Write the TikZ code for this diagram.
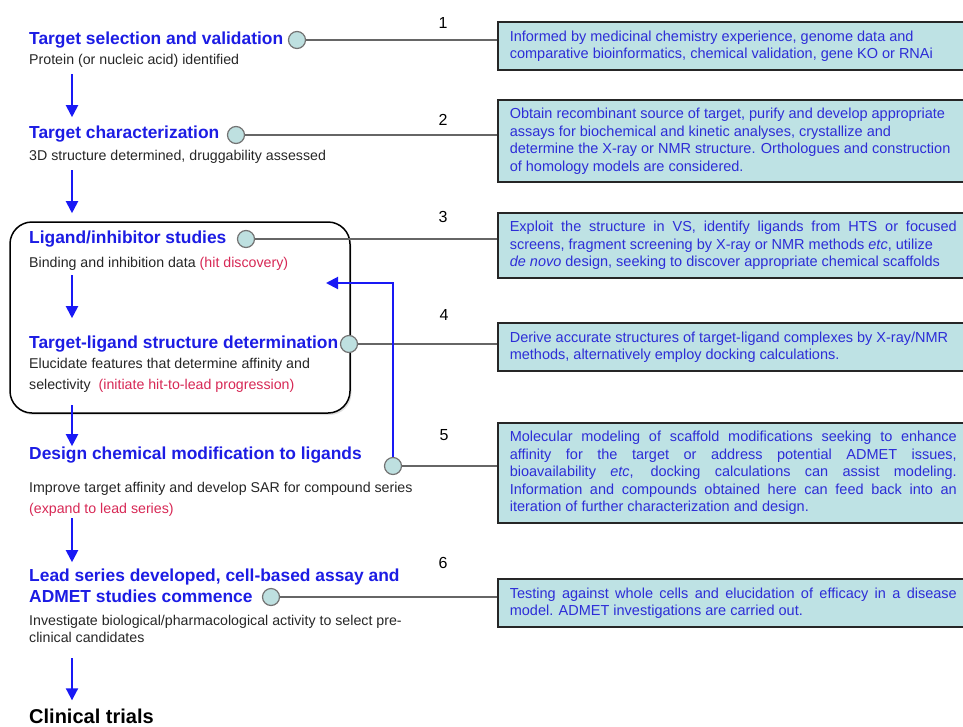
\documentclass[tikz,border=0pt]{standalone}
\usepackage{fontspec}
\setmainfont{Liberation Sans}
\usetikzlibrary{arrows.meta,shadows}
\definecolor{headblue}{RGB}{28,28,228}
\definecolor{arrowblue}{RGB}{25,25,245}
\definecolor{noteblue}{RGB}{45,45,215}
\definecolor{notefill}{RGB}{190,226,228}
\definecolor{dotfill}{RGB}{190,224,224}
\definecolor{hitred}{RGB}{215,40,85}

\begin{document}
\begin{tikzpicture}[x=1pt,y=1pt]
\tikzstyle{every node}+=[inner sep=0pt]
\tikzstyle{head}=[anchor=base west,align=left,text=headblue,font=\fontsize{17.4}{21}\selectfont\bfseries]
\tikzstyle{sub}=[anchor=base west,align=left,text=black!85,font=\fontsize{14.2}{20.5}\selectfont]
\tikzstyle{dot}=[circle,draw=black!55,fill=dotfill,line width=1.2pt,minimum size=17pt]
\tikzstyle{note}=[anchor=west,draw=black!85,line width=1.6pt,fill=notefill,text=noteblue,text width=447pt,align=justify,inner xsep=12pt,font=\fontsize{14.5}{17.5}\selectfont]
\tikzstyle{num}=[font=\fontsize{16}{16}\selectfont]
\tikzstyle{flow}=[draw=arrowblue,line width=2pt,-{Triangle[width=12pt,length=12pt]}]
\tikzstyle{link}=[draw=black!60,line width=1.2pt]
\useasboundingbox (0,0) rectangle (963,-726);
\draw [black,line width=1.5pt,fill=white,rounded corners=22pt,drop shadow={opacity=0.25,shadow xshift=1.5pt,shadow yshift=-2pt}] (10,-222) rectangle (350,-413);
\node [head] (t1) at (29,-44) {Target selection and validation};
\node [sub] (s1) at (29,-64) {Protein (or nucleic acid) identified};
\node [head] (t2) at (29,-138) {Target characterization};
\node [sub] (s2) at (29,-160) {3D structure determined, druggability assessed};
\node [head] (t3) at (29,-243) {Ligand/inhibitor studies};
\node [sub] (s3) at (29,-267) {Binding and inhibition data \textcolor{hitred}{(hit discovery)}};
\node [head] (t4) at (29,-348) {Target-ligand structure determination};
\node [sub] (s4) at (29,-389) {Elucidate features that determine affinity and\\selectivity\ \ \textcolor{hitred}{(initiate hit-to-lead progression)}};
\node [head] (t5) at (29,-459) {Design chemical modification to ligands};
\node [sub] (s5) at (29,-513) {Improve target affinity and develop SAR for compound series\\\textcolor{hitred}{(expand to lead series)}};
\node [head] (t6) at (29,-602) {Lead series developed, cell-based assay and\\ADMET studies commence};
\node [sub,font=\fontsize{14.2}{17}\selectfont] (s6) at (29,-642) {Investigate biological/pharmacological activity to select pre-\\clinical candidates};
\node [head,text=black,font=\fontsize{20}{24}\selectfont\bfseries] (t7) at (29,-723) {Clinical trials};
\node [dot] (c1) at (297,-40) {};
\node [dot] (c2) at (236,-135) {};
\node [dot] (c3) at (246,-239) {};
\node [dot] (c4) at (349,-344) {};
\node [dot] (c5) at (393,-466) {};
\node [dot] (c6) at (271,-597) {};
\node [num] (k1) at (443,-23) {1};
\node [num] (k2) at (443,-120) {2};
\node [num] (k3) at (443,-217) {3};
\node [num] (k4) at (444,-315) {4};
\node [num] (k5) at (444,-435) {5};
\node [num] (k6) at (443,-563) {6};
\node [note,minimum height=48pt] (n1) at (497,-46) {Informed by medicinal chemistry experience, genome data and\newline comparative bioinformatics, chemical validation, gene KO or RNAi};
\node [note,minimum height=82pt] (n2) at (497,-141) {Obtain recombinant source of target, purify and develop appropriate\newline assays for biochemical and kinetic analyses, crystallize and\newline determine the X-ray or NMR structure. Orthologues and construction\newline of homology models are considered.};
\node [note,minimum height=65pt] (n3) at (497,-245.5) {Exploit the structure in VS, identify ligands from HTS or focused\linebreak screens, fragment screening by X-ray or NMR methods \textit{etc}, utilize\newline \textit{de novo} design, seeking to discover appropriate chemical scaffolds};
\node [note,minimum height=48pt] (n4) at (497,-347) {Derive accurate structures of target-ligand complexes by X-ray/NMR\newline methods, alternatively employ docking calculations.};
\node [note,minimum height=100pt] (n5) at (497,-473) {Molecular modeling of scaffold modifications seeking to enhance\linebreak affinity for the target or address potential ADMET issues,\linebreak bioavailability \textit{etc}, docking calculations can assist modeling.\linebreak Information and compounds obtained here can feed back into an\linebreak iteration of further characterization and design.};
\node [note,minimum height=48pt] (n6) at (497,-603) {Testing against whole cells and elucidation of efficacy in a disease\linebreak model. ADMET investigations are carried out.};
\draw [link] (c1) -- (c1 -| n1.west);
\draw [link] (c2) -- (c2 -| n2.west);
\draw [link] (c3) -- (c3 -| n3.west);
\draw [link] (c4) -- (c4 -| n4.west);
\draw [link] (c5) -- (c5 -| n5.west);
\draw [link] (c6) -- (c6 -| n6.west);
\coordinate (col) at (72,0);
\coordinate (back) at (326,-283);
\draw [flow] (c5) |- (back);
\draw [flow,shorten <=7pt,shorten >=8pt] (s1.south -| col) -- (t2.north -| col);
\draw [flow,shorten <=7pt,shorten >=17pt] (s2.south -| col) -- (t3.north -| col);
\draw [flow,shorten <=5pt,shorten >=17pt] (s3.south -| col) -- (t4.north -| col);
\draw [flow,shorten <=13pt,shorten >=0pt] (s4.south -| col) -- (t5.north -| col);
\draw [flow,shorten <=2pt,shorten >=6pt] (s5.south -| col) -- (t6.north -| col);
\draw [flow,shorten <=16pt,shorten >=8pt] (s6.south -| col) -- (t7.north -| col);
\end{tikzpicture}
\end{document}
